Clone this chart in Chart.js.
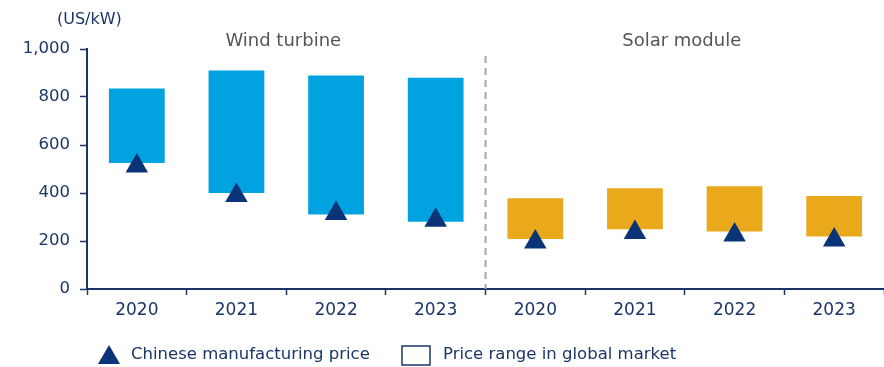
<!DOCTYPE html>
<html>
<head>
<meta charset="utf-8">
<script src="https://cdn.jsdelivr.net/npm/chart.js@4/dist/chart.umd.min.js"></script>
<style>
  html, body { margin: 0; padding: 0; background: #ffffff; }
  #wrap { width: 884px; height: 367px; position: relative; }
</style>
</head>
<body>
<div id="wrap"><canvas id="c" width="884" height="367"></canvas></div>
<script>
// Price ranges in the global market and Chinese manufacturing prices (US$/kW)
const years = ['2020', '2021', '2022', '2023'];
const windRangeLow  = [525, 400, 310, 280];
const windRangeHigh = [835, 910, 890, 880];
const windChinaPrice = [513, 390, 315, 286];
const solarRangeLow  = [208, 249, 240, 219];
const solarRangeHigh = [378, 420, 428, 388];
const solarChinaPrice = [196, 235, 225, 204];
const groupTitles = ['Wind turbine', 'Solar module'];
const yTicks = [0, 200, 400, 600, 800, 1000];

const NAVY = '#1b3566';
const MARK = '#0b3478';
const WIND = '#00a3e0';
const SOLAR = '#e9a91b';
const FONT = '"DejaVu Sans", "Liberation Sans", sans-serif';

const labels = years.concat(years);
const ranges = windRangeLow.map((v, i) => [v, windRangeHigh[i]])
  .concat(solarRangeLow.map((v, i) => [v, solarRangeHigh[i]]));
const rangeColors = years.map(() => WIND).concat(years.map(() => SOLAR));
const chinaPrices = windChinaPrice.concat(solarChinaPrice);

// headings, unit label, group divider and legend
const decorations = {
  id: 'decorations',
  afterDatasetsDraw(chart) {
    const ctx = chart.ctx;
    const x = chart.scales.x;
    const area = chart.chartArea;
    ctx.save();
    // divider between the two groups
    const divX = (x.getPixelForValue(3) + x.getPixelForValue(4)) / 2;
    ctx.strokeStyle = '#a6a6a6';
    ctx.lineWidth = 2;
    ctx.setLineDash([7, 5]);
    ctx.beginPath();
    ctx.moveTo(divX, 56);
    ctx.lineTo(divX, area.bottom);
    ctx.stroke();
    ctx.setLineDash([]);

    // group headings
    ctx.fillStyle = '#555555';
    ctx.font = '18px ' + FONT;
    ctx.textAlign = 'center';
    ctx.textBaseline = 'middle';
    ctx.fillText(groupTitles[0], (x.getPixelForValue(1) + x.getPixelForValue(2)) / 2 - 3, 41);
    ctx.fillText(groupTitles[1], (x.getPixelForValue(5) + x.getPixelForValue(6)) / 2 - 3, 41);

    // unit
    ctx.fillStyle = NAVY;
    ctx.font = '16px ' + FONT;
    ctx.textAlign = 'left';
    ctx.fillText('(US/kW)', 57, 20);

    // legend
    const ly = 355;
    ctx.fillStyle = MARK;
    ctx.beginPath();
    ctx.moveTo(109, 345);
    ctx.lineTo(120, 364);
    ctx.lineTo(98, 364);
    ctx.closePath();
    ctx.fill();
    ctx.fillStyle = NAVY;
    ctx.font = '16.5px ' + FONT;
    ctx.fillText(chart.data.datasets[1].label, 131, ly);
    ctx.strokeStyle = NAVY;
    ctx.lineWidth = 1.5;
    ctx.strokeRect(402, 346, 28, 19);
    ctx.fillText(chart.data.datasets[0].label, 443, ly);
    ctx.restore();
  }
};

new Chart(document.getElementById('c'), {
  data: {
    labels: labels,
    datasets: [
      {
        type: 'bar',
        label: 'Price range in global market',
        data: ranges,
        backgroundColor: rangeColors,
        borderWidth: 0,
        barPercentage: 0.56,
        categoryPercentage: 1.0,
        order: 1
      },
      {
        type: 'line',
        label: 'Chinese manufacturing price',
        data: chinaPrices,
        showLine: false,
        pointStyle: 'triangle',
        pointRadius: 13,
        pointHoverRadius: 13,
        pointBackgroundColor: MARK,
        pointBorderColor: MARK,
        pointBorderWidth: 0,
        order: 0
      }
    ]
  },
  options: {
    responsive: false,
    animation: false,
    events: [],
    layout: { autoPadding: false, padding: { top: 49, right: 0, bottom: 38, left: 0 } },
    plugins: {
      legend: { display: false },
      tooltip: { enabled: false }
    },
    scales: {
      x: {
        type: 'category',
        offset: true,
        afterFit(scale) {
          scale.height = 40;
        },
        grid: {
          offset: true,
          drawOnChartArea: false,
          drawTicks: true,
          tickLength: 6,
          tickWidth: 1.5,
          tickColor: NAVY
        },
        border: { display: true, color: NAVY, width: 2 },
        ticks: {
          color: NAVY,
          font: { family: FONT, size: 17 },
          padding: 5,
          maxRotation: 0
        }
      },
      y: {
        min: 0,
        max: 1000,
        afterFit(scale) { scale.width = 87; },
        afterBuildTicks(scale) { scale.ticks = yTicks.map(v => ({ value: v })); },
        grid: {
          drawOnChartArea: false,
          drawTicks: true,
          tickLength: 7,
          tickWidth: 1.5,
          tickColor: NAVY
        },
        border: { display: true, color: NAVY, width: 2 },
        ticks: {
          color: NAVY,
          font: { family: FONT, size: 16.5 },
          padding: 10,
          callback: v => v.toLocaleString('en-US')
        }
      }
    }
  },
  plugins: [decorations]
});
</script>
</body>
</html>
